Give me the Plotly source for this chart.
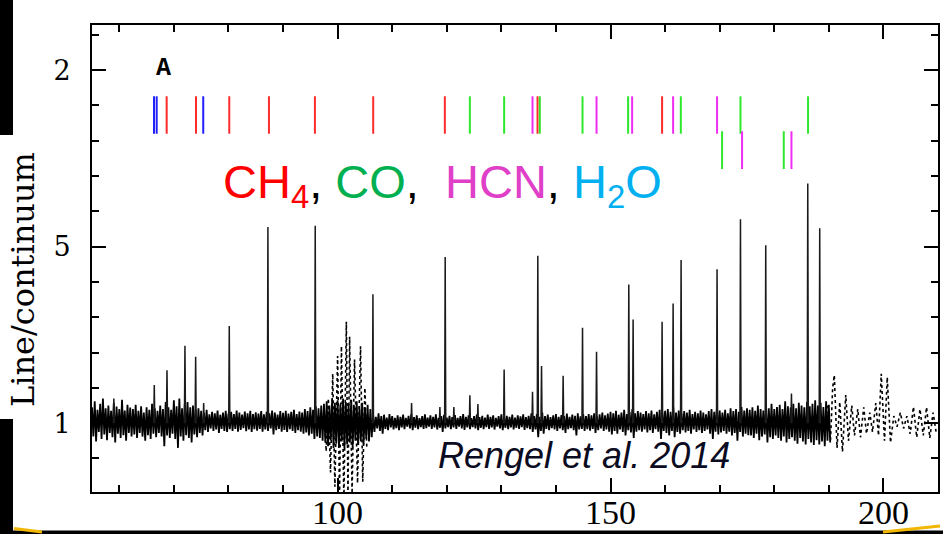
import plotly.graph_objects as go

# ---------------------------------------------------------------- data
# Continuum-normalised spectrum, wavelength in micron.
# Noise band of the solid (well-calibrated) part, sampled every 0.5 um
# from 55 um: upper and lower excursion at each sample.
WL_START = 55.0
WL_STEP = 0.5

noise_hi = [
    # 55 - 62
    1.045, 1.062, 1.038, 1.055, 1.070, 1.042, 1.050, 1.035, 1.058, 1.047,
    1.040, 1.066, 1.036, 1.052, 1.044,
    # 62.5 - 75
    1.040, 1.052, 1.035, 1.048, 1.030, 1.045, 1.038, 1.055, 1.042, 1.035,
    1.050, 1.040, 1.060, 1.045, 1.038, 1.065, 1.048, 1.070, 1.042, 1.055,
    1.060, 1.045, 1.050, 1.038, 1.042, 1.035,
    # 75.5 - 97
    1.030, 1.038, 1.025, 1.032, 1.028, 1.036, 1.024, 1.030, 1.035, 1.027,
    1.032, 1.026, 1.036, 1.030, 1.024, 1.033, 1.028, 1.035, 1.026, 1.031,
    1.027, 1.034, 1.025, 1.032, 1.028, 1.036, 1.030, 1.024, 1.034, 1.029,
    1.035, 1.027, 1.032, 1.038, 1.026, 1.033, 1.030, 1.040, 1.034, 1.045,
    1.038, 1.048, 1.042, 1.050,
    # 97.5 - 106
    1.055, 1.062, 1.050, 1.068, 1.058, 1.065, 1.052, 1.070, 1.060, 1.055,
    1.066, 1.050, 1.062, 1.048, 1.058, 1.045, 1.052, 1.040,
    # 106.5 - 150
    1.025, 1.018, 1.028, 1.020, 1.024, 1.016, 1.026, 1.020, 1.015, 1.022,
    1.018, 1.024, 1.015, 1.021, 1.026, 1.017, 1.022, 1.014, 1.020, 1.025,
    1.016, 1.022, 1.018, 1.025, 1.015, 1.020, 1.024, 1.016, 1.021, 1.017,
    1.023, 1.015, 1.020, 1.026, 1.018, 1.022, 1.014, 1.020, 1.024, 1.017,
    1.021, 1.016, 1.024, 1.018, 1.022, 1.015, 1.020, 1.025, 1.017, 1.021,
    1.018, 1.024, 1.016, 1.022, 1.019, 1.025, 1.017, 1.021, 1.028, 1.020,
    1.026, 1.018, 1.030, 1.020, 1.024, 1.017, 1.022, 1.026, 1.018, 1.023,
    1.020, 1.027, 1.018, 1.024, 1.021, 1.028, 1.019, 1.025, 1.020, 1.026,
    1.022, 1.028, 1.019, 1.025, 1.030, 1.022, 1.027, 1.032,
    # 150.5 - 175
    1.028, 1.035, 1.024, 1.030, 1.038, 1.026, 1.032, 1.040, 1.028, 1.034,
    1.030, 1.026, 1.034, 1.028, 1.036, 1.025, 1.032, 1.038, 1.030, 1.035,
    1.040, 1.032, 1.045, 1.030, 1.036, 1.028, 1.034, 1.030, 1.038, 1.026,
    1.032, 1.028, 1.036, 1.030, 1.025, 1.034, 1.040, 1.032, 1.045, 1.036,
    1.030, 1.038, 1.028, 1.042, 1.034, 1.040, 1.032, 1.046, 1.036, 1.042,
    # 175.5 - 190
    1.038, 1.045, 1.035, 1.050, 1.040, 1.036, 1.048, 1.042, 1.055, 1.040,
    1.046, 1.052, 1.040, 1.062, 1.048, 1.044, 1.055, 1.042, 1.058, 1.050,
    1.045, 1.060, 1.048, 1.055, 1.065, 1.050, 1.058, 1.046, 1.062, 1.052,
]

noise_lo = [
    # 55 - 62
    0.962, 0.948, 0.975, 0.955, 0.968, 0.952, 0.972, 0.960, 0.945, 0.970,
    0.958, 0.966, 0.950, 0.972, 0.962,
    # 62.5 - 75
    0.968, 0.958, 0.972, 0.962, 0.950, 0.966, 0.955, 0.970, 0.960, 0.972,
    0.962, 0.935, 0.965, 0.958, 0.970, 0.955, 0.930, 0.962, 0.950, 0.966,
    0.958, 0.945, 0.968, 0.960, 0.972, 0.965,
    # 75.5 - 97
    0.980, 0.975, 0.985, 0.978, 0.982, 0.972, 0.984, 0.978, 0.975, 0.983,
    0.978, 0.984, 0.976, 0.981, 0.986, 0.977, 0.982, 0.975, 0.983, 0.979,
    0.984, 0.976, 0.982, 0.978, 0.985, 0.968, 0.980, 0.984, 0.976, 0.981,
    0.975, 0.983, 0.978, 0.972, 0.980, 0.976, 0.970, 0.974, 0.965, 0.970,
    0.955, 0.962, 0.958, 0.950,
    # 97.5 - 106
    0.945, 0.935, 0.952, 0.930, 0.942, 0.935, 0.948, 0.928, 0.940, 0.945,
    0.932, 0.950, 0.938, 0.948, 0.940, 0.955, 0.948, 0.960,
    # 106.5 - 150
    0.975, 0.985, 0.978, 0.970, 0.984, 0.980, 0.988, 0.982, 0.986, 0.980,
    0.988, 0.983, 0.990, 0.985, 0.980, 0.987, 0.983, 0.989, 0.984, 0.986,
    0.990, 0.984, 0.988, 0.982, 0.987, 0.975, 0.985, 0.989, 0.983, 0.988,
    0.984, 0.990, 0.985, 0.981, 0.988, 0.983, 0.989, 0.985, 0.980, 0.987,
    0.983, 0.989, 0.984, 0.988, 0.982, 0.990, 0.985, 0.980, 0.987, 0.983,
    0.988, 0.982, 0.987, 0.984, 0.989, 0.981, 0.986, 0.983, 0.975, 0.982,
    0.960, 0.978, 0.970, 0.984, 0.980, 0.986, 0.982, 0.978, 0.985, 0.980,
    0.972, 0.983, 0.986, 0.980, 0.965, 0.982, 0.984, 0.978, 0.983, 0.979,
    0.984, 0.972, 0.980, 0.985, 0.978, 0.982, 0.976, 0.968,
    # 150.5 - 175
    0.978, 0.970, 0.982, 0.975, 0.965, 0.980, 0.974, 0.958, 0.976, 0.980,
    0.976, 0.982, 0.974, 0.980, 0.972, 0.983, 0.976, 0.955, 0.978, 0.972,
    0.965, 0.978, 0.960, 0.975, 0.970, 0.980, 0.974, 0.978, 0.970, 0.982,
    0.975, 0.980, 0.972, 0.978, 0.982, 0.970, 0.955, 0.976, 0.968, 0.974,
    0.978, 0.970, 0.976, 0.965, 0.972, 0.950, 0.975, 0.962, 0.970, 0.966,
    # 175.5 - 190
    0.965, 0.958, 0.970, 0.952, 0.962, 0.968, 0.945, 0.960, 0.955, 0.965,
    0.958, 0.950, 0.962, 0.945, 0.955, 0.960, 0.950, 0.942, 0.958, 0.948,
    0.940, 0.955, 0.945, 0.938, 0.952, 0.940, 0.948, 0.935, 0.950, 0.945,
]

# Emission lines: centre wavelength (um) and peak line/continuum
line_wl = [59.0, 66.41, 68.74, 72.03, 73.99, 75.46, 80.15, 87.23, 95.9,
           106.47, 113.55, 118.74, 119.71, 121.3, 124.23, 125.7, 130.51,
           135.71, 136.68, 137.36, 141.32, 144.87, 147.44, 153.35, 154.14,
           159.45, 161.47, 162.93, 169.52, 173.81, 178.44, 183.15, 186.14,
           188.33]
line_peak = [1.07, 1.108, 1.15, 1.219, 1.188, 1.057, 1.275, 1.556, 1.559,
             1.365, 1.057, 1.046, 1.471, 1.046, 1.079, 1.054, 1.152,
             1.089, 1.474, 1.162, 1.134, 1.27, 1.202, 1.393, 1.294,
             1.287, 1.339, 1.462, 1.436, 1.578, 1.504, 1.084, 1.679,
             1.552]

# Fringing (leak) regions, plotted dotted
fringe1_wl = [97.6, 97.9, 98.3, 98.7, 99.1, 99.5, 100.0, 100.35, 100.7,
              101.15, 101.6, 101.9, 102.2, 102.65, 103.1, 103.65, 104.2,
              104.6, 105.0, 105.35]
fringe1_flux = [1.02, 0.92, 1.07, 0.86, 1.14, 0.82, 1.19, 0.79, 1.218, 0.78,
                1.287, 0.79, 1.245, 0.80, 1.18, 0.83, 1.218, 0.834, 1.10,
                0.93]

fringe2_wl = [189.8, 190.3, 190.7, 191.0, 191.5, 192.0, 192.5, 193.1, 193.6,
              194.2, 194.7, 195.3, 195.8, 196.4, 196.9, 197.5, 198.0, 198.6,
              199.1, 199.6, 200.2, 200.7, 201.3, 201.9, 202.5, 203.1, 203.7,
              204.3, 204.9, 205.5, 206.1, 206.7, 207.3, 207.9, 208.5, 209.1,
              209.7]
fringe2_flux = [1.05, 0.95, 1.10, 1.136, 0.93, 1.06, 0.919, 1.08, 0.95, 1.05,
                0.965, 1.04, 0.96, 1.045, 0.97, 1.03, 0.975, 1.057, 0.965,
                1.14, 0.95, 1.13, 0.945, 1.02, 0.99, 1.03, 0.985, 1.02, 0.97,
                1.046, 0.96, 1.04, 0.965, 1.045, 0.958, 1.03, 0.97]

# Line identifications (um) per molecule, upper and lower marker rows
ch4_row1 = [68.68, 74.05, 80.15, 87.42, 95.84, 106.52, 119.65, 136.63, 159.45]
h2o_row1 = [66.36, 66.85, 75.38]
co_row1 = [124.23, 130.51, 137.05, 144.87, 153.22, 162.88, 173.81, 186.19]
hcn_row1 = [135.71, 147.44, 153.96, 161.47, 169.52]
co_row2 = [170.44, 181.74]
hcn_row2 = [174.1, 183.15]

y_tick_vals = [1, 1.5, 2]
y_tick_text = ["1", "5", "2"]

X_RANGE = [55, 210]
Y_RANGE = [0.805, 2.128]

# ---------------------------------------------------------------- figure
W, H = 943, 534
L, R, T, B = 92, 5, 25, 42
PW, PH = W - L - R, H - T - B


def px(xp):
    return (xp - L) / PW


def py(yp):
    return (H - B - yp) / PH


fig = go.Figure()

# dense noise band: zig-zag between the upper and lower excursions
nx, ny = [], []
for i, (hi, lo) in enumerate(zip(noise_hi, noise_lo)):
    w = WL_START + i * WL_STEP
    nx += [w, w + WL_STEP / 2]
    ny += [hi, lo]
fig.add_trace(go.Scatter(x=nx, y=ny, mode="lines",
                         line=dict(color="black", width=1.8, simplify=False),
                         hoverinfo="skip", showlegend=False))

# emission line spikes
sx, sy = [], []
for w, p in zip(line_wl, line_peak):
    sx += [w - 0.1, w, w + 0.1, None]
    sy += [1.0, p, 1.0, None]
fig.add_trace(go.Scatter(x=sx, y=sy, mode="lines",
                         line=dict(color="#1a1a1a", width=1.5, simplify=False),
                         hoverinfo="skip", showlegend=False))

# dotted fringing segments
for fx, fy in ((fringe1_wl, fringe1_flux), (fringe2_wl, fringe2_flux)):
    fig.add_trace(go.Scatter(x=fx, y=fy, mode="lines",
                             line=dict(color="black", width=1.6, dash="dot",
                                       simplify=False),
                             hoverinfo="skip", showlegend=False))

# identification markers
ROW1 = (1.82, 1.926)
ROW2 = (1.72, 1.827)
markers = [
    (ch4_row1, ROW1, "#ff2a2a"),
    (h2o_row1, ROW1, "#2020ff"),
    (co_row1, ROW1, "#2ee82e"),
    (hcn_row1, ROW1, "#f02cf0"),
    (co_row2, ROW2, "#2ee82e"),
    (hcn_row2, ROW2, "#f02cf0"),
]
for wls, (y0, y1), col in markers:
    mx, my = [], []
    for w in wls:
        mx += [w, w, None]
        my += [y0, y1, None]
    fig.add_trace(go.Scatter(x=mx, y=my, mode="lines",
                             line=dict(color=col, width=2),
                             hoverinfo="skip", showlegend=False))

# empty traces so the extra tick axes (minor / mirrored) get drawn
for xa, ya in (("x2", "y"), ("x3", "y"), ("x4", "y"),
               ("x", "y2"), ("x", "y3"), ("x", "y4")):
    fig.add_trace(go.Scatter(x=[None], y=[None], xaxis=xa, yaxis=ya,
                             mode="lines", hoverinfo="skip",
                             showlegend=False))

plain = dict(showgrid=False, zeroline=False, automargin=False,
             ticks="inside", tickcolor="black", tickwidth=1.5)

xaxis = dict(range=X_RANGE, tick0=0, dtick=50, ticklen=14,
             showline=True, linecolor="black", linewidth=2, mirror=True,
             tickfont=dict(family="Liberation Serif", size=34, color="black"),
             ticklabelstandoff=-11, **plain)
yaxis = dict(range=Y_RANGE, tickmode="array", tickvals=y_tick_vals,
             ticktext=y_tick_text, ticklen=14,
             showline=True, linecolor="black", linewidth=2, mirror=True,
             tickfont=dict(family="DejaVu Serif", size=27, color="black"),
             ticklabelstandoff=14, **plain)


def tick_axis(rng, side, anchor, over, dtick, ticklen):
    return dict(range=rng, side=side, anchor=anchor, overlaying=over,
                tick0=0, dtick=dtick, ticklen=ticklen,
                showticklabels=False, showline=False, **plain)


fig.update_layout(
    template="none",
    width=W, height=H,
    margin=dict(l=L, r=R, t=T, b=B, autoexpand=False),
    paper_bgcolor="white", plot_bgcolor="white",
    showlegend=False,
    xaxis=xaxis,
    yaxis=yaxis,
    xaxis2=tick_axis(X_RANGE, "bottom", "y", "x", 10, 7),
    xaxis3=tick_axis(X_RANGE, "top", "y", "x", 50, 14),
    xaxis4=tick_axis(X_RANGE, "top", "y", "x", 10, 7),
    yaxis2=tick_axis(Y_RANGE, "left", "x", "y", 0.1, 7),
    yaxis3=tick_axis(Y_RANGE, "right", "x", "y", 0.5, 14),
    yaxis4=tick_axis(Y_RANGE, "right", "x", "y", 0.1, 7),
)

species = ('<span style="color:#ff0000">CH<sub>4</sub></span>, '
           '<span style="color:#00b050">CO</span>,  '
           '<span style="color:#e040c8">HCN</span>, '
           '<span style="color:#00b0f0">H<sub>2</sub>O</span>')

annotations = [
    dict(text="<b>A</b>", x=px(163.5), y=py(68), xref="paper", yref="paper",
         showarrow=False, xanchor="center", yanchor="middle",
         font=dict(family="Liberation Mono", size=25, color="black")),
    dict(text=species, x=px(221), y=py(185), xref="paper", yref="paper",
         showarrow=False, xanchor="left", yanchor="middle",
         font=dict(family="Liberation Sans", size=47, color="black")),
    dict(text="<i>Rengel et al. 2014</i>", x=px(584), y=py(455),
         xref="paper", yref="paper", showarrow=False,
         xanchor="center", yanchor="middle",
         font=dict(family="Liberation Sans", size=36, color="#0b0b22")),
    dict(text="Line/continuum", x=px(23), y=py(280), xref="paper",
         yref="paper", showarrow=False, textangle=-90,
         xanchor="center", yanchor="middle",
         font=dict(family="DejaVu Serif", size=32, color="black")),
]

# dark slide border around the figure
shapes = [
    dict(type="rect", xref="paper", yref="paper", x0=px(0), x1=px(13),
         y0=py(0), y1=py(135), fillcolor="black", line_width=0,
         layer="above"),
    dict(type="rect", xref="paper", yref="paper", x0=px(0), x1=px(13),
         y0=py(419), y1=py(534), fillcolor="black", line_width=0,
         layer="above"),
    dict(type="rect", xref="paper", yref="paper", x0=px(0), x1=px(943),
         y0=py(530.5), y1=py(534), fillcolor="black", line_width=0,
         layer="above"),
    dict(type="line", xref="paper", yref="paper", x0=px(14), y0=py(528.5),
         x1=px(42), y1=py(532), line=dict(color="#f2b705", width=3),
         layer="above"),
    dict(type="line", xref="paper", yref="paper", x0=px(883), y0=py(532),
         x1=px(940), y1=py(526), line=dict(color="#f2b705", width=3),
         layer="above"),
]

fig.update_layout(annotations=annotations, shapes=shapes)

fig.write_html("out.html")
